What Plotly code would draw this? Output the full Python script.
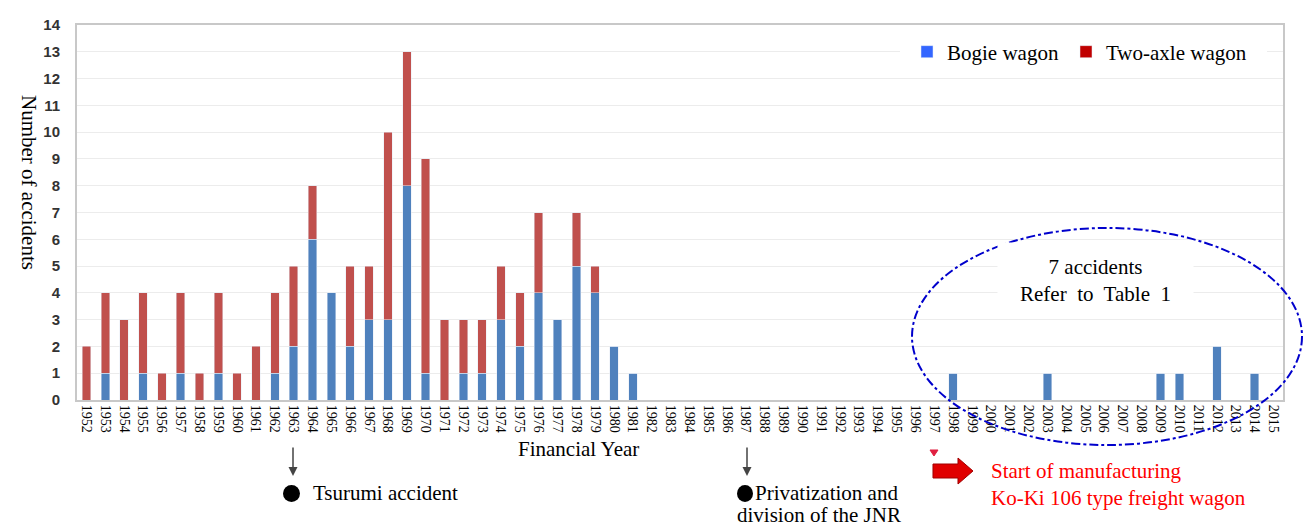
import plotly.graph_objects as go

years = [str(y) for y in range(1952, 2016)]
bogie = [0, 1, 0, 1, 0, 1, 0, 1, 0, 0, 1, 2, 6, 4, 2, 3, 3, 8, 1, 0,
         1, 1, 3, 2, 4, 3, 5, 4, 2, 1] + [0] * 16 + \
        [1, 0, 0, 0, 0, 1, 0, 0, 0, 0, 0, 1, 1, 0, 2, 0, 1, 0]
total = [2, 4, 3, 4, 1, 4, 1, 4, 1, 2, 4, 5, 8, 4, 5, 5, 10, 13, 9, 3,
         3, 3, 5, 4, 7, 3, 7, 5, 2, 1] + [0] * 16 + \
        [1, 0, 0, 0, 0, 1, 0, 0, 0, 0, 0, 1, 1, 0, 2, 0, 1, 0]
two_axle = [t - b for t, b in zip(total, bogie)]
y_ticks = list(range(0, 15))

W, H = 1309, 529
L, R, T, B = 77, 26, 25, 129
PW, PH = W - L - R, H - T - B


def px(x):
    return (x - L) / PW


def py(y):
    return (H - B - y) / PH


SERIF = "Liberation Serif, Times New Roman, serif"
FS = 21

fig = go.Figure()
fig.add_trace(go.Bar(x=years, y=bogie, marker_color="#4F81BD", showlegend=False, name="Bogie wagon"))
fig.add_trace(go.Bar(x=years, y=two_axle, marker_color="#C0504D", showlegend=False, name="Two-axle wagon"))
# legend entries
fig.add_trace(go.Bar(x=[None], y=[None], marker_color="#3366FF", name="Bogie wagon", legend="legend"))
fig.add_trace(go.Bar(x=[None], y=[None], marker_color="#C00000", name="Two-axle wagon", legend="legend2"))

leg_common = dict(orientation="h", xanchor="left", yanchor="middle", bgcolor="rgba(0,0,0,0)",
                  font=dict(family=SERIF, size=FS, color="black"), itemwidth=30)

fig.update_layout(
    width=W, height=H,
    margin=dict(l=L, r=R, t=T, b=B, autoexpand=False),
    barmode="stack", bargap=0.55,
    plot_bgcolor="white", paper_bgcolor="white",
    font=dict(family=SERIF, color="black"),
    legend=dict(x=px(907), y=py(52), **leg_common),
    legend2=dict(x=px(1066), y=py(52), **leg_common),
    xaxis=dict(type="category", categoryorder="array", categoryarray=years,
               range=[-0.5, len(years) - 0.5], tickangle=90, automargin=False,
               tickfont=dict(family=SERIF, size=14, color="black"),
               showline=True, mirror=True, linecolor="#c8c8c8", linewidth=2,
               showgrid=False, ticks=""),
    yaxis=dict(range=[0, 14], tickvals=y_ticks, ticktext=[str(v) for v in y_ticks],
               automargin=False,
               tickfont=dict(family="Liberation Sans, Arial, sans-serif", size=15,
                             color="#333333", weight="bold"),
               ticks="outside", ticklen=12, tickcolor="rgba(0,0,0,0)",
               showline=True, mirror=True, linecolor="#c8c8c8", linewidth=2,
               gridcolor="#ececec", zeroline=False),
)

# white box behind legend
fig.add_shape(type="rect", xref="paper", yref="paper", layer="above",
              x0=px(900), x1=px(1267), y0=py(76), y1=py(28),
              fillcolor="white", line=dict(width=0))

ann = []
ann.append(dict(text="Number of accidents", x=px(15), y=py(182), xref="paper", yref="paper",
                textangle=90, showarrow=False, font=dict(family=SERIF, size=FS)))
ann.append(dict(text="Financial Year", x=px(578), y=py(463), xref="paper", yref="paper",
                showarrow=False, font=dict(family=SERIF, size=FS)))
for ax_x in (293, 747):
    ann.append(dict(text="", x=px(ax_x), y=py(476), xref="paper", yref="paper",
                    ax=0, ay=-30, showarrow=True, arrowhead=2, arrowsize=1.2,
                    arrowwidth=1.5, arrowcolor="#444"))
ann.append(dict(text="Tsurumi accident", x=px(311), y=py(493), xref="paper", yref="paper",
                xanchor="left", yanchor="middle", showarrow=False,
                font=dict(family=SERIF, size=FS)))
ann.append(dict(text="Privatization and", x=px(753), y=py(493),
                xref="paper", yref="paper", xanchor="left", yanchor="middle",
                showarrow=False, font=dict(family=SERIF, size=FS)))
ann.append(dict(text="division of the JNR", x=px(735), y=py(515),
                xref="paper", yref="paper", xanchor="left", yanchor="middle",
                showarrow=False, font=dict(family=SERIF, size=FS)))
ann.append(dict(text="Start of manufacturing<br>Ko-Ki 106 type freight wagon", x=px(989), y=py(485),
                xref="paper", yref="paper", xanchor="left", yanchor="middle", align="left",
                showarrow=False, font=dict(family=SERIF, size=FS, color="#FF0000")))
ann.append(dict(text="7 accidents<br>Refer\u00a0 to\u00a0 Table\u00a0 1", x=px(1095), y=py(280),
                xref="paper", yref="paper", xanchor="center", yanchor="middle", align="center",
                showarrow=False, bgcolor="white", borderpad=0, width=195, height=75,
                font=dict(family=SERIF, size=FS)))
fig.update_layout(annotations=ann)

# bullets
for bx0, bx1 in ((283, 300), (737, 753)):
    fig.add_shape(type="circle", xref="paper", yref="paper",
                  x0=px(bx0), x1=px(bx1), y0=py(502), y1=py(485),
                  fillcolor="black", line=dict(color="black", width=0))

# dash-dot ellipse
fig.add_shape(type="circle", xref="paper", yref="paper",
              x0=px(912), x1=px(1302), y0=py(445), y1=py(228),
              line=dict(color="#0000CC", width=2, dash="dashdot"))
# red block arrow
pts = [(933, 464), (958, 464), (958, 458), (973, 471), (958, 484), (958, 478), (933, 478)]
path = "M " + " L ".join(f"{px(x):.5f},{py(y):.5f}" for x, y in pts) + " Z"
fig.add_shape(type="path", xref="paper", yref="paper", path=path,
              fillcolor="#E00000", line=dict(color="#A00000", width=1))
tri = [(930, 450), (938, 450), (934, 456)]
path2 = "M " + " L ".join(f"{px(x):.5f},{py(y):.5f}" for x, y in tri) + " Z"
fig.add_shape(type="path", xref="paper", yref="paper", path=path2,
              fillcolor="#E02040", line=dict(color="#E02040", width=1))

fig.write_html("out.html", config={"displayModeBar": False},
               post_script="document.body.style.margin='0';document.body.style.overflow='hidden';")
